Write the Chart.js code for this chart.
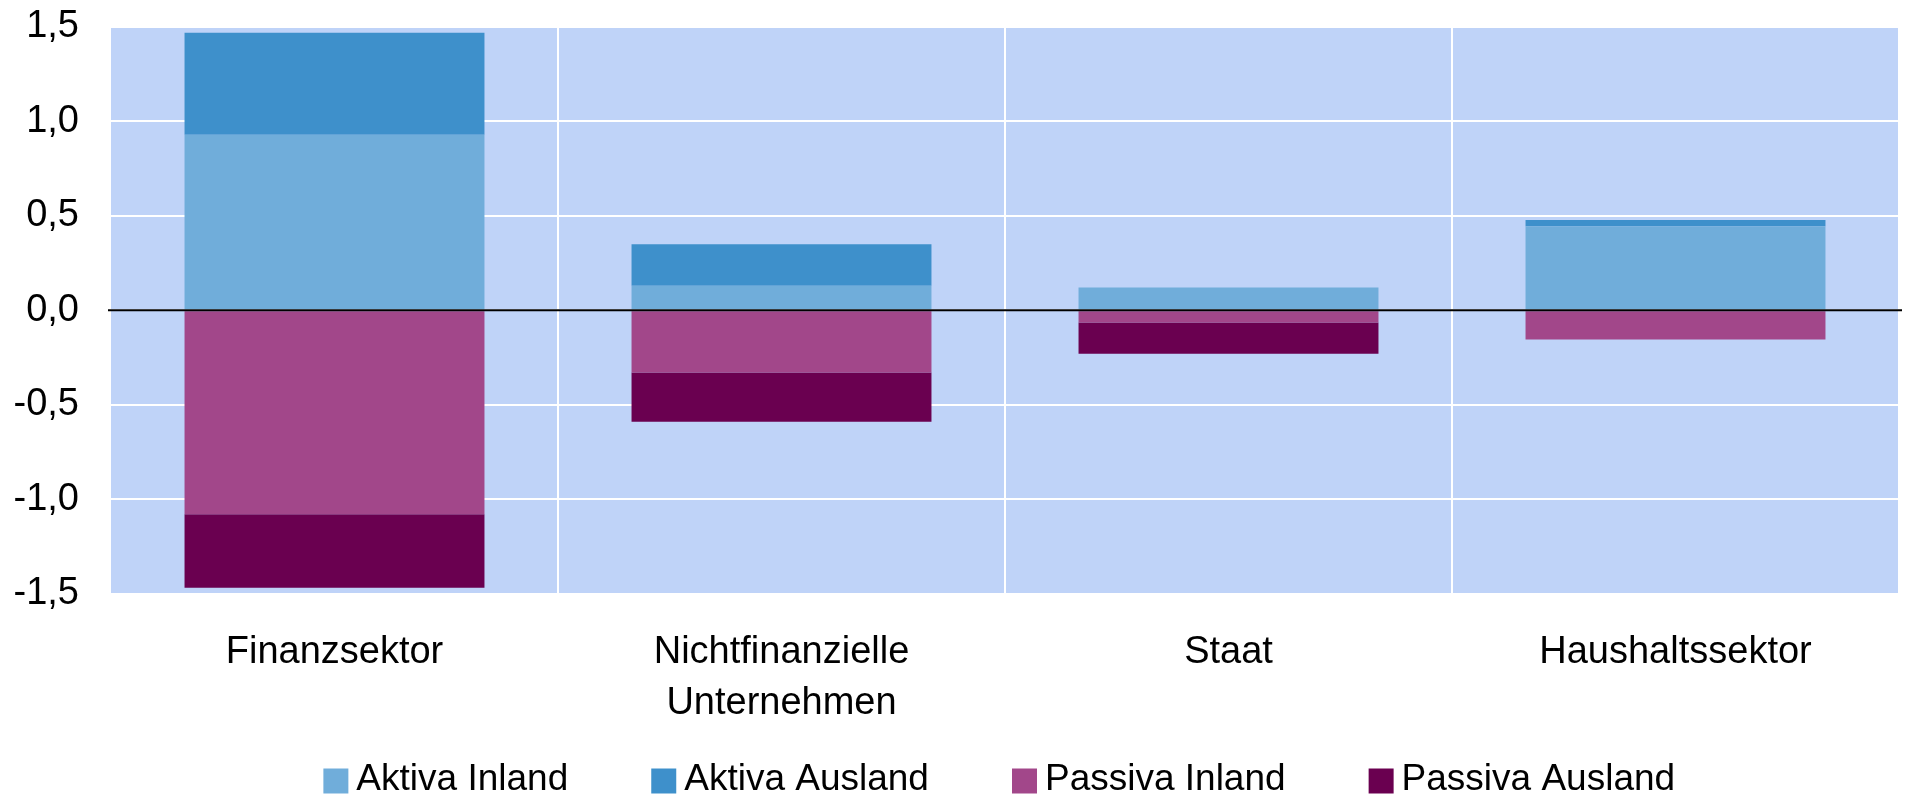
<!DOCTYPE html>
<html lang="de">
<head>
<meta charset="utf-8">
<title>Sektoren</title>
<script src="https://cdn.jsdelivr.net/npm/chart.js"></script>
<style>
  html, body { margin: 0; padding: 0; background: #ffffff; overflow: hidden; }
  #wrap { position: relative; width: 1905px; height: 808px; }
</style>
</head>
<body>
<div id="wrap"><canvas id="c"></canvas></div>
<script>
// ---- data ----
const categories = ['Finanzsektor', ['Nichtfinanzielle', 'Unternehmen'], 'Staat', 'Haushaltssektor'];
const seriesNames = ['Aktiva Inland', 'Aktiva Ausland', 'Passiva Inland', 'Passiva Ausland'];
const aktivaInland   = [0.93, 0.13, 0.12, 0.445];
const aktivaAusland  = [0.54, 0.22, 0.00, 0.033];
const passivaInland  = [-1.08, -0.33, -0.065, -0.155];
const passivaAusland = [-0.39, -0.26, -0.165, 0.00];
const yMin = -1.5, yMax = 1.5, yStep = 0.5;
const yTickLabels = ['-1,5', '-1,0', '-0,5', '0,0', '0,5', '1,0', '1,5'];

const colors = ['#70ADDA', '#3E90CB', '#A2478A', '#6A0050'];
const FONT = "'Liberation Sans', Arial, sans-serif";

// legend swatches: square placed inside a small transparent image
function swatch(color) {
  const c = document.createElement('canvas');
  c.width = 30; c.height = 52;
  const g = c.getContext('2d');
  g.fillStyle = color;
  g.fillRect(2, 15, 25, 25);
  return c;
}
const legendImgs = colors.map(swatch);

const plotBg = {
  id: 'plotBg',
  beforeDraw(chart) {
    const {ctx, chartArea: a} = chart;
    ctx.save();
    ctx.fillStyle = '#BFD3F8';
    ctx.fillRect(a.left, a.top, a.right - a.left, a.bottom - a.top);
    ctx.restore();
  }
};
const zeroLine = {
  id: 'zeroLine',
  afterDatasetsDraw(chart) {
    const {ctx, chartArea: a, scales} = chart;
    const y = scales.y.getPixelForValue(0);
    ctx.save();
    ctx.strokeStyle = '#000000';
    ctx.lineWidth = 2;
    ctx.beginPath();
    ctx.moveTo(a.left - 3, y);
    ctx.lineTo(a.right + 3, y);
    ctx.stroke();
    ctx.restore();
  }
};

const seriesData = [aktivaInland, aktivaAusland, passivaInland, passivaAusland];

new Chart(document.getElementById('c'), {
  type: 'bar',
  data: {
    labels: categories,
    datasets: seriesNames.map((n, i) => ({
      label: n,
      data: seriesData[i],
      backgroundColor: colors[i],
      borderWidth: 0,
      categoryPercentage: 1.0,
      barPercentage: 0.671
    }))
  },
  options: {
    responsive: true,
    maintainAspectRatio: false,
    animation: false,
    layout: { padding: { top: 27, right: 6, left: 0, bottom: 0 } },
    plugins: {
      tooltip: { enabled: false },
      legend: {
        position: 'bottom',
        fullSize: false,
        title: { display: true, text: '', font: { size: 1, lineHeight: 1 }, padding: { top: -62, bottom: 0 } },
        labels: {
          font: { family: FONT, size: 37 },
          color: '#000000',
          usePointStyle: true,
          boxWidth: 3,
          boxHeight: 25,
          padding: 94.5,
          generateLabels: (chart) =>
            Chart.defaults.plugins.legend.labels.generateLabels(chart)
              .map((l, i) => Object.assign(l, { pointStyle: legendImgs[i] }))
        }
      }
    },
    scales: {
      x: {
        stacked: true,
        border: { display: false },
        grid: {
          offset: true,
          drawTicks: false,
          lineWidth: 2,
          color: (c) => (c.index === 0 ? 'rgba(0,0,0,0)' : '#FFFFFF')
        },
        ticks: {
          font: { family: FONT, size: 38, lineHeight: 1.342 },
          color: '#000000',
          padding: 33.5,
          maxRotation: 0,
          autoSkip: false
        },
        afterFit: (s) => { s.height = 134; }
      },
      y: {
        stacked: true,
        min: yMin,
        max: yMax,
        border: { display: false },
        grid: { drawTicks: false, lineWidth: 2, color: '#FFFFFF' },
        ticks: {
          stepSize: yStep,
          font: { family: FONT, size: 38 },
          color: '#000000',
          padding: 32,
          callback: (v) => yTickLabels[Math.round((v - yMin) / yStep)]
        },
        afterFit: (s) => { s.width = 111; s.paddingTop = 0; s.paddingBottom = 0; }
      }
    }
  },
  plugins: [plotBg, zeroLine]
});
</script>
</body>
</html>
